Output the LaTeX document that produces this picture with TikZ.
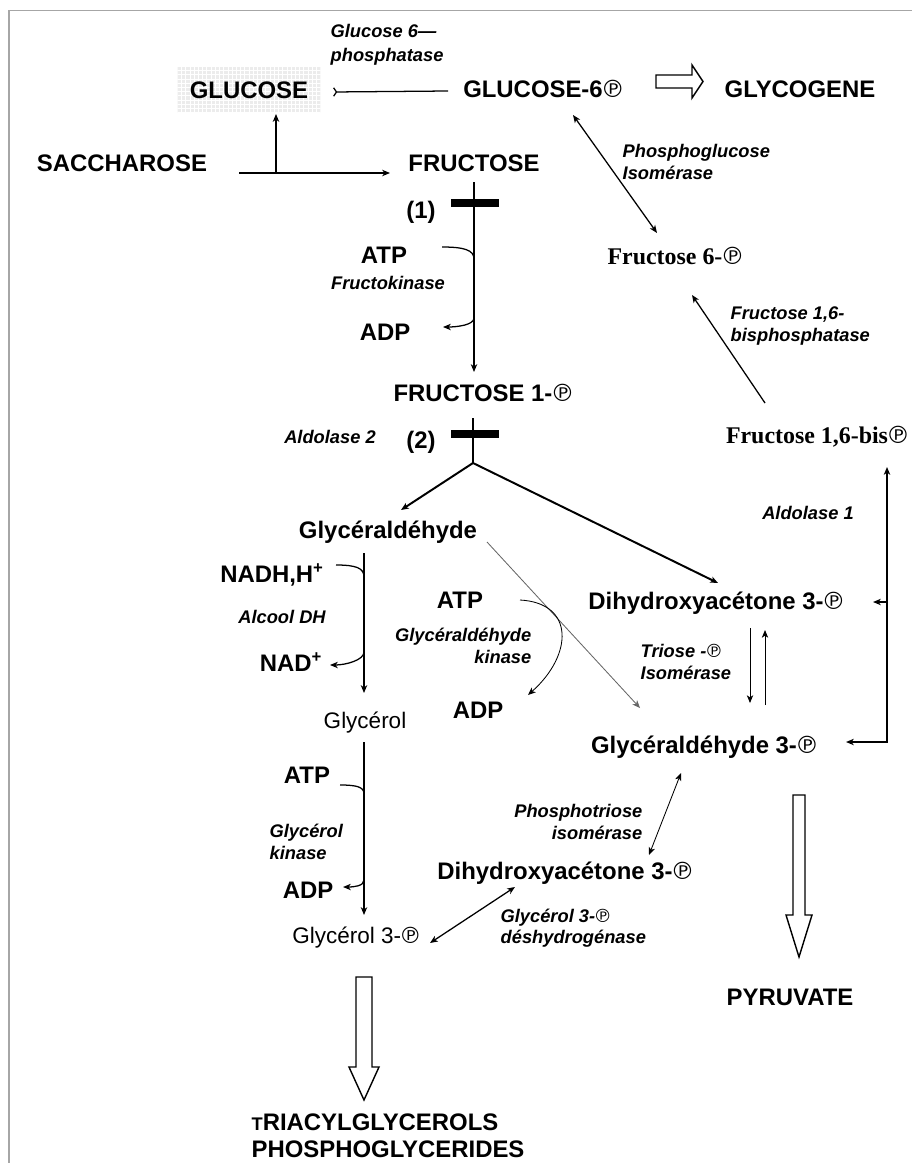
\documentclass[tikz,border=0pt]{standalone}
\usepackage{fontspec}
\setmainfont{Liberation Sans}
\newfontfamily\timesfont{Liberation Serif}
\newfontfamily\symfont{DejaVu Sans}
\usepackage{tikz}
\usetikzlibrary{arrows.meta}
\usetikzlibrary{patterns}

\newcommand{\phos}{{\kern-0.08em\symfont\mdseries ℗}}

\tikzset{
  met/.style={inner sep=1pt, font=\fontsize{17}{19}\selectfont\bfseries},
  metserif/.style={inner sep=1pt, font=\fontsize{17}{19}\selectfont\timesfont\bfseries},
  metlight/.style={inner sep=1pt, font=\fontsize{16}{18}\selectfont},
  enz/.style={inner sep=1pt, font=\fontsize{13}{15.3}\selectfont\bfseries\itshape},
  flow/.style={line width=0.9pt},
  flowthick/.style={line width=1.4pt},
  flowthin/.style={line width=0.6pt},
  blockbar/.style={line width=5pt},
  hollow/.style={draw, line width=1pt, fill=white, line join=miter},
  >={Stealth[length=5.5pt,width=4.5pt,inset=1.5pt]}
}

\begin{document}
\begin{tikzpicture}[x=0.025cm, y=-0.025cm]

    \useasboundingbox (0,0) rectangle (912,1163);
    % frame
    \draw[gray!70, line width=1.4pt] (9,1163) -- (9,10.5) -- (912,10.5);

    % Metabolites
    \node[met, preaction={fill=gray!15}, pattern=grid, pattern color=white,
          minimum width=101.7pt, minimum height=32.7pt] (glc) at (249,90) {GLUCOSE};
    \node[met] (g6p) at (544,89) {GLUCOSE-6\phos};
    \node[met] (glycogene) at (800,89) {GLYCOGENE};
    \node[met] (sacch) at (122,163) {SACCHAROSE};
    \node[met] (fru) at (474,163) {FRUCTOSE};
    \node[met] (f1p) at (484,393) {FRUCTOSE 1-\phos};
    \node[metserif] (f6p) at (676,256) {Fructose 6-\phos};
    \node[metserif] (f16bp) at (818,437) {Fructose 1,6-bis\phos};
    \node[met] (glyald) at (388,532) {Glycéraldéhyde};
    \node[met] (dhap) at (717,603) {Dihydroxyacétone 3-\phos};
    \node[met] (ga3p) at (705,747) {Glycéraldéhyde 3-\phos};
    \node[metlight] (glycerol) at (365,723) {Glycérol};
    \node[metlight] (g3p) at (357,938) {Glycérol 3-\phos};
    \node[met] (dhap2) at (566,873) {Dihydroxyacétone 3-\phos};
    \node[met] (pyr) at (790,997) {PYRUVATE};
    \node[met, align=left] (lipids) at (388,1136)
        {{\fontsize{13}{13}\selectfont T}RIACYLGLYCEROLS\\PHOSPHOGLYCERIDES};

    % Cofactors
    \node[met] (atp1) at (384,255) {ATP};
    \node[met] (adp1) at (385,332) {ADP};
    \node[met] (nadh) at (272,575) {NADH,H\textsuperscript{+}};
    \node[met] (nad) at (291,662) {NAD\textsuperscript{+}};
    \node[met] (atp2) at (460,600) {ATP};
    \node[met] (adp2) at (478,710) {ADP};
    \node[met] (atp3) at (307,775) {ATP};
    \node[met] (adp3) at (308,890) {ADP};
    \node[met] (n1) at (421,212) {(1)};
    \node[met] (n2) at (421,442) {(2)};

    % Enzymes
    \node[enz, align=left, anchor=west] (g6pase) at (329,45) {Glucose 6—\\[1.5pt]phosphatase};
    \node[enz, align=left, anchor=west] (pgi) at (621,162) {Phosphoglucose\\Isomérase};
    \node[enz] (fk) at (388,283) {Fructokinase};
    \node[enz] (ald2) at (330,437) {Aldolase 2};
    \node[enz, align=left, anchor=west] (fbpase) at (729,326) {Fructose 1,6-\\bisphosphatase};
    \node[enz] (ald1) at (808,513) {Aldolase 1};
    \node[enz] (adh) at (282,617) {Alcool DH};
    \node[enz, align=right, anchor=east] (gak) at (533,646) {Glycéraldéhyde\\kinase};
    \node[enz, align=left, anchor=west] (tpi1) at (639,662) {Triose -\phos\\Isomérase};
    \node[enz, align=left, anchor=west] (gk) at (268,842) {Glycérol\\kinase};
    \node[enz, align=right, anchor=east] (tpi2) at (644,822) {Phosphotriose\\isomérase};
    \node[enz, align=left, anchor=west] (g3pdh) at (499,928) {Glycérol 3-\phos\\déshydrogénase};

    % Blocked steps
    \draw[blockbar] ([shift={(-23,40)}]fru.center) -- ([shift={(25,40)}]fru.center);
    \draw[blockbar] ([shift={(-33,41)}]f1p.center) -- ([shift={(15,41)}]f1p.center);

    % Top of the scheme
    \draw[flow, {Straight Barb[reversed,length=2pt,width=6pt]}-]
        ([shift={(84,2)}]glc.center) -- ([shift={(-96,2)}]g6p.center);
    \draw[flow, ->] ([shift={(117,10)}]sacch.center) -- ([shift={(-84,10)}]fru.center);
    \draw[flow, ->] ([shift={(154,10)}]sacch.center) -- ([shift={(27,24)}]glc.center);
    \draw[flow, <->] ([shift={(29,26)}]g6p.center) -- ([shift={(-19,-23)}]f6p.center);
    \draw[flow, ->] ([shift={(-53,-34)}]f16bp.center) -- ([shift={(16,39)}]f6p.center);

    % Fructokinase
    \draw[flow, ->] ([shift={(0,19)}]fru.center) -- ([shift={(-10,-21)}]f1p.center);
    \draw[flow] ([shift={(58,-8)}]atp1.center) .. controls +(22,0) and +(0,-9) .. ([shift={(90,4)}]atp1.center);
    \draw[flow, ->] ([shift={(89,-14)}]adp1.center) .. controls +(0,7) and +(14,0) .. ([shift={(58,-5)}]adp1.center);

    % Aldolase 2
    \coordinate (br) at ([shift={(-11,70)}]f1p.center);
    \draw[flow] ([shift={(-11,25)}]f1p.center) -- (br);
    \draw[flowthick, ->] (br) -- ([shift={(13,-22)}]glyald.center);
    \draw[flowthick, ->] (br) -- ([shift={(1,-20)}]dhap.center);

    % Aldolase 1
    \draw[flowthick, <->] ([shift={(69,30)}]f16bp.center) |- ([shift={(141,-5)}]ga3p.center);
    \draw[flow, ->] ([shift={(171,-1)}]dhap.center) -- ([shift={(156,-1)}]dhap.center);

    % Triose isomerase
    \draw[flowthin, ->] ([shift={(33,25)}]dhap.center) -- ([shift={(45,-44)}]ga3p.center);
    \draw[flowthin, ->] ([shift={(60,-42)}]ga3p.center) -- ([shift={(48,27)}]dhap.center);

    % Glyceraldehyde kinase
    \draw[flowthin, gray!80!black, ->] ([shift={(99,10)}]glyald.center) -- ([shift={(-65,-39)}]ga3p.center);
    \draw[flowthin, ->] ([shift={(60,0)}]atp2.center) .. controls +(55,3) and +(45,-40) .. ([shift={(50,-15)}]adp2.center);

    % Alcool DH
    \draw[flow, ->] ([shift={(-24,21)}]glyald.center) -- ([shift={(-1,-30)}]glycerol.center);
    \draw[flow] ([shift={(64,-10)}]nadh.center) .. controls +(20,0) and +(0,-9) .. ([shift={(92,2)}]nadh.center);
    \draw[flow, ->] ([shift={(73,-10)}]nad.center) .. controls +(0,8) and +(16,0) .. ([shift={(39,3)}]nad.center);

    % Glycerol kinase
    \draw[flow, ->] ([shift={(-1,19)}]glycerol.center) -- ([shift={(7,-23)}]g3p.center);
    \draw[flow] ([shift={(33,10)}]atp3.center) .. controls +(17,0) and +(0,-7) .. ([shift={(57,19)}]atp3.center);
    \draw[flow, ->] ([shift={(56,-10)}]adp3.center) .. controls +(0,6) and +(11,0) .. ([shift={(35,-3)}]adp3.center);

    % Phosphotriose isomerase, G3P dehydrogenase
    \draw[flowthin, <->] ([shift={(-24,26)}]ga3p.center) -- ([shift={(83,-18)}]dhap2.center);
    \draw[flow, <->] ([shift={(73,5)}]g3p.center) -- ([shift={(-51,14)}]dhap2.center);

    % Hollow arrows
    \draw[hollow] (656,75) -- (692,75) -- (692,65) -- (703,81.5) -- (692,98) -- (692,88) -- (656,88) -- cycle;
    \draw[hollow] (793,795) -- (805,795) -- (805,915) -- (812,915) -- (799,957) -- (786,915) -- (793,915) -- cycle;
    \draw[hollow] (356,977) -- (372,977) -- (372,1067) -- (379,1067) -- (364,1100) -- (349,1067) -- (356,1067) -- cycle;

\end{tikzpicture}
\end{document}
